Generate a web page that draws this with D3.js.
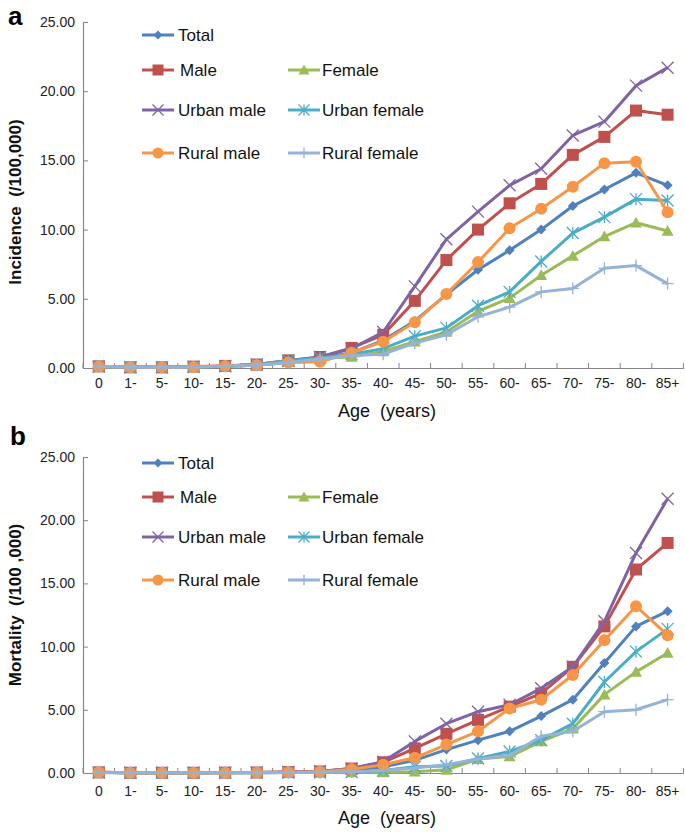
<!DOCTYPE html>
<html>
<head>
<meta charset="utf-8">
<script src="https://cdn.jsdelivr.net/npm/d3@7/dist/d3.min.js"></script>
<style>
  html, body { margin: 0; padding: 0; background: #fff; }
  svg { display: block; }
  text { font-family: "Liberation Sans", Arial, sans-serif; }
</style>
</head>
<body>
<svg id="chart" width="685" height="832"></svg>
<script>
// ---------- data ----------
const ages = ["0","1-","5-","10-","15-","20-","25-","30-","35-","40-","45-","50-","55-","60-","65-","70-","75-","80-","85+"];
const yTicks = [0, 5, 10, 15, 20, 25];
const seriesNames = ["Total","Male","Female","Urban male","Urban female","Rural male","Rural female"];

// Incidence (/100,000)
const incTotal       = [0.10,0.05,0.05,0.08,0.12,0.20,0.45,0.70,1.10,2.00,3.40,5.30,7.10,8.50,10.00,11.70,12.90,14.10,13.20];
const incMale        = [0.12,0.05,0.05,0.10,0.15,0.25,0.55,0.80,1.45,2.40,4.85,7.80,10.00,11.90,13.30,15.40,16.70,18.60,18.30];
const incFemale      = [0.08,0.04,0.05,0.08,0.12,0.20,0.45,0.70,0.80,1.20,1.90,2.60,4.10,5.05,6.70,8.10,9.50,10.50,9.90];
const incUrbanMale   = [0.10,0.05,0.05,0.08,0.15,0.25,0.50,0.80,1.40,2.60,5.90,9.30,11.30,13.20,14.40,16.80,17.80,20.40,21.70];
const incUrbanFemale = [0.10,0.05,0.05,0.08,0.12,0.25,0.55,0.75,1.00,1.40,2.30,2.90,4.50,5.50,7.70,9.75,10.90,12.20,12.10];
const incRuralMale   = [0.10,0.05,0.05,0.08,0.15,0.20,0.40,0.45,1.10,1.90,3.30,5.35,7.65,10.10,11.50,13.10,14.80,14.90,11.25];
const incRuralFemale = [0.10,0.05,0.05,0.08,0.12,0.20,0.40,0.65,0.90,1.00,1.80,2.40,3.70,4.40,5.50,5.75,7.20,7.40,6.10];

// Mortality (/100,000)
const morTotal       = [0.05,0.02,0.02,0.02,0.02,0.03,0.05,0.08,0.20,0.50,1.00,1.85,2.60,3.30,4.50,5.80,8.70,11.60,12.80];
const morMale        = [0.05,0.02,0.02,0.02,0.03,0.04,0.07,0.12,0.35,0.85,1.95,3.10,4.20,5.25,6.30,8.40,11.60,16.10,18.20];
const morFemale      = [0.03,0.01,0.01,0.01,0.01,0.02,0.03,0.04,0.05,0.05,0.10,0.25,1.10,1.30,2.50,3.50,6.20,8.00,9.50];
const morUrbanMale   = [0.05,0.02,0.02,0.02,0.03,0.04,0.08,0.12,0.35,0.90,2.50,3.90,4.85,5.40,6.70,8.40,12.00,17.40,21.70];
const morUrbanFemale = [0.03,0.01,0.01,0.01,0.01,0.02,0.03,0.04,0.08,0.20,0.50,0.55,1.15,1.70,2.60,3.90,7.20,9.60,11.40];
const morRuralMale   = [0.05,0.02,0.02,0.02,0.02,0.03,0.06,0.10,0.30,0.65,1.20,2.25,3.30,5.10,5.80,7.75,10.50,13.20,10.90];
const morRuralFemale = [0.03,0.01,0.01,0.01,0.01,0.02,0.03,0.05,0.10,0.20,0.40,0.65,1.10,1.40,2.90,3.30,4.85,5.00,5.80];

// ---------- styles ----------
const colors = ["#4F81BD","#C0504D","#9BBB59","#8064A2","#4BACC6","#F79646","#95B3D7"];
const markers = ["diamond","square","triangle","x","star","circle","plus"];

const svg = d3.select("#chart");
svg.append("rect").attr("width",685).attr("height",832).attr("fill","#fff");

function drawMarker(g, type, cx, cy, color, s) {
  const h = s / 2;
  if (type === "diamond") {
    g.append("path").attr("d", `M${cx},${cy-h}L${cx+h},${cy}L${cx},${cy+h}L${cx-h},${cy}Z`).attr("fill", color);
  } else if (type === "square") {
    g.append("rect").attr("x", cx-h).attr("y", cy-h).attr("width", s).attr("height", s).attr("fill", color);
  } else if (type === "triangle") {
    g.append("path").attr("d", `M${cx},${cy-h}L${cx+h},${cy+h*0.8}L${cx-h},${cy+h*0.8}Z`).attr("fill", color);
  } else if (type === "circle") {
    g.append("circle").attr("cx", cx).attr("cy", cy).attr("r", h).attr("fill", color);
  } else if (type === "x") {
    g.append("path").attr("d", `M${cx-h},${cy-h}L${cx+h},${cy+h}M${cx-h},${cy+h}L${cx+h},${cy-h}`)
      .attr("stroke", color).attr("stroke-width", 1.3).attr("fill","none");
  } else if (type === "star") {
    g.append("path").attr("d", `M${cx-h},${cy-h}L${cx+h},${cy+h}M${cx-h},${cy+h}L${cx+h},${cy-h}M${cx},${cy-h}L${cx},${cy+h}`)
      .attr("stroke", color).attr("stroke-width", 1.3).attr("fill","none");
  } else if (type === "plus") {
    g.append("path").attr("d", `M${cx-h},${cy}L${cx+h},${cy}M${cx},${cy-h}L${cx},${cy+h}`)
      .attr("stroke", color).attr("stroke-width", 1.3).attr("fill","none");
  }
}
const markerSize = [10, 12, 12, 12, 12, 12, 12];

function drawPanel(cfg) {
  const g = svg.append("g");
  const x = d3.scaleBand().domain(ages).range([83, 683.4]).paddingInner(0).paddingOuter(0);
  const xc = d => x(d) + x.bandwidth() / 2;
  const y = d3.scaleLinear().domain([0, 25]).range([cfg.bottom, cfg.top]);
  const axisColor = "#868686";

  // y axis
  const yAxis = g.append("g").attr("transform", "translate(83,0)")
    .call(d3.axisLeft(y).tickValues(yTicks).tickSize(0).tickPadding(8).tickFormat(d3.format(".2f")));
  yAxis.select(".domain").attr("stroke", axisColor).attr("stroke-width", 1.2);
  yAxis.selectAll(".tick text").attr("font-size", 14).attr("fill", "#222")
    .style("font-family", "'Liberation Sans', Arial, sans-serif");
  yAxis.selectAll(".tick").append("line").attr("x1", 0).attr("x2", 5).attr("stroke", axisColor).attr("stroke-width", 1);

  // x axis
  const xAxis = g.append("g").attr("transform", `translate(0,${cfg.bottom})`)
    .call(d3.axisBottom(x).tickSize(0).tickPadding(cfg.xPad));
  xAxis.select(".domain").attr("stroke", axisColor).attr("stroke-width", 1.2);
  xAxis.selectAll(".tick text").attr("font-size", 14).attr("fill", "#222")
    .style("font-family", "'Liberation Sans', Arial, sans-serif");
  // category boundary ticks (inside)
  const bounds = ages.map(a => x(a)).concat([x(ages[ages.length-1]) + x.bandwidth()]);
  g.selectAll(".xb").data(bounds).join("line")
    .attr("x1", d => d).attr("x2", d => d)
    .attr("y1", cfg.bottom).attr("y2", cfg.bottom - 5)
    .attr("stroke", axisColor).attr("stroke-width", 1);

  // series
  cfg.series.forEach((vals, i) => {
    const line = d3.line().x((d, j) => xc(ages[j])).y(d => y(d));
    g.append("path").datum(vals).attr("d", line)
      .attr("fill", "none").attr("stroke", colors[i]).attr("stroke-width", 3)
      .attr("stroke-linejoin", "round");
    const mg = g.append("g");
    vals.forEach((v, j) => drawMarker(mg, markers[i], xc(ages[j]), y(v), colors[i], markerSize[i]));
  });

  // legend
  const rows = cfg.legendY;
  const pos = [
    [0, 0], [0, 1], [1, 1], [0, 2], [1, 2], [0, 3], [1, 3]
  ];
  const colX = [[142, 174, 178], [288, 320, 322]];
  pos.forEach((p, i) => {
    const [c, r] = p;
    const ly = rows[r];
    const lg = g.append("g");
    lg.append("line").attr("x1", colX[c][0]).attr("x2", colX[c][1]).attr("y1", ly).attr("y2", ly)
      .attr("stroke", colors[i]).attr("stroke-width", 3);
    drawMarker(lg, markers[i], (colX[c][0] + colX[c][1]) / 2, ly, colors[i], markerSize[i] - 1);
    lg.append("text").attr("x", colX[c][2] + (i === 1 ? 2 : 0)).attr("y", ly).attr("dy", "0.36em")
      .attr("font-size", 17).attr("fill", "#111").text(seriesNames[i]);
  });

  // axis titles
  g.append("text").attr("x", 387).attr("y", cfg.titleY).attr("text-anchor", "middle")
    .attr("font-size", 18).attr("fill", "#111").style("white-space", "pre").text("Age  (years)");
  g.append("text").attr("transform", `translate(21,${cfg.yTitleCenter}) rotate(-90)`)
    .attr("text-anchor", "middle").attr("font-size", 17).attr("font-weight", "bold")
    .attr("fill", "#111").style("white-space", "pre").text(cfg.yTitle);

  // panel letter
  g.append("text").attr("x", cfg.letterX).attr("y", cfg.letterY).attr("font-size", 26)
    .attr("font-weight", "bold").attr("fill", "#000").text(cfg.letter);
}

drawPanel({
  top: 22, bottom: 368, xPad: 10,
  legendY: [35, 70, 110, 153],
  titleY: 417, yTitleCenter: 202,
  yTitle: "Incidence  (/100,000)",
  letter: "a", letterX: 8, letterY: 25,
  series: [incTotal, incMale, incFemale, incUrbanMale, incUrbanFemale, incRuralMale, incRuralFemale]
});
drawPanel({
  top: 457, bottom: 773, xPad: 13,
  legendY: [463, 497, 537, 580],
  titleY: 824, yTitleCenter: 605,
  yTitle: "Mortality  (/100 ,000)",
  letter: "b", letterX: 10, letterY: 445,
  series: [morTotal, morMale, morFemale, morUrbanMale, morUrbanFemale, morRuralMale, morRuralFemale]
});
</script>
</body>
</html>
